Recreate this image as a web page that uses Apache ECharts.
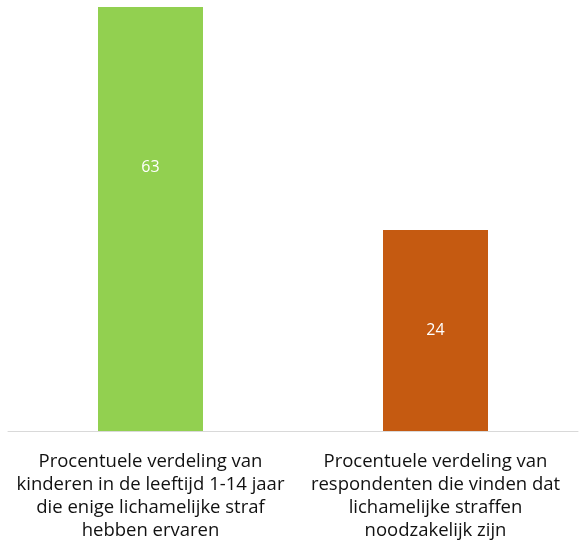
<!DOCTYPE html>
<html>
<head>
<meta charset="utf-8">
<script src="https://cdn.jsdelivr.net/npm/echarts@6/dist/echarts.min.js"></script>
<style>
    html, body { margin: 0; padding: 0; background: #fff; }
    #chart { position: absolute; left: 0; top: 7px; width: 580px; height: 543px; }
</style>
</head>
<body>
<div id="chart"></div>
<script>
var categories = [
    'Procentuele verdeling van\nkinderen in de leeftijd 1-14 jaar\ndie enige lichamelijke straf\nhebben ervaren',
    'Procentuele verdeling van\nrespondenten die vinden dat\nlichamelijke straffen\nnoodzakelijk zijn'
];
var values = [63, 24];
var barColors = ['#92D050', '#C55A11'];

var myChart = echarts.init(document.getElementById('chart'));
var option = {
    animation: false,
    grid: {
        top: 5,
        left: 8,
        right: 2,
        bottom: 119
    },
    xAxis: {
        type: 'category',
        data: categories,
        axisTick: { show: false },
        axisLine: {
            show: true,
            lineStyle: { color: '#d9d9d9', width: 1 }
        },
        axisLabel: {
            interval: 0,
            margin: 19,
            color: '#111',
            fontFamily: 'Open Sans',
            fontSize: 18.5,
            lineHeight: 23,
            align: 'center'
        }
    },
    yAxis: {
        type: 'value',
        min: 0,
        max: 50,
        show: false,
        splitLine: { show: false }
    },
    series: [
        {
            type: 'bar',
            barWidth: 105,
            clip: false,
            data: values.map(function (v, i) {
                return { value: v, itemStyle: { color: barColors[i] } };
            }),
            label: {
                show: true,
                position: 'inside',
                color: '#fff',
                fontFamily: 'Open Sans',
                fontSize: 16
            }
        }
    ]
};

myChart.setOption(option);
</script>
</body>
</html>
